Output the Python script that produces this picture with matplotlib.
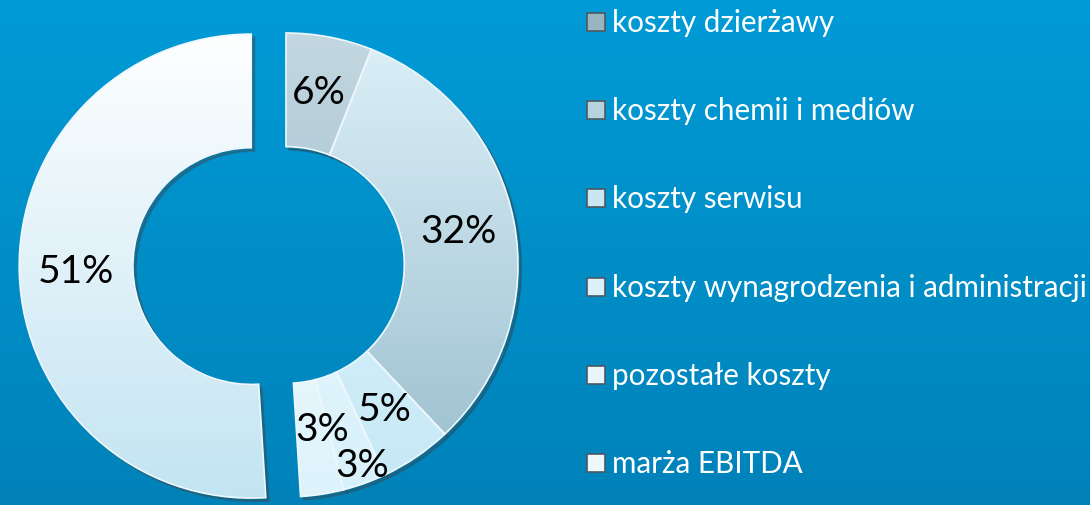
import numpy as np
import matplotlib
matplotlib.use("Agg")
import matplotlib.pyplot as plt
import matplotlib.patches as mpatches
from matplotlib.colors import to_rgba

# data
labels = ["koszty dzierżawy", "koszty chemii i mediów", "koszty serwisu",
          "koszty wynagrodzenia i administracji", "pozostałe koszty", "marża EBITDA"]
values = [6, 32, 5, 3, 3, 51]
explode = [0, 0, 0, 0, 0, 0.15]

# gradient colours per slice (top, bottom)
grad_top = ["#c3d8e1", "#ddf1f9", "#e8f8fd", "#f6fcff", "#ffffff", "#ffffff"]
grad_bot = ["#8fb1c0", "#98bccc", "#c4e8f5", "#d6f1fb", "#dcf3fb", "#c2e4f2"]
legend_col = ["#9bb5c0", "#b7d3de", "#c9e7f2", "#dcf1f9", "#e8f6fb", "#eef8fc"]

# manual nudges for the two crowded 3% labels
label_shift = {3: (-0.10, 0.0), 4: (0.21, -0.12)}

W, H = 1090, 505
R = 232.0                       # outer radius in px
cx, cy = 286.0, 505 - 265.0     # pie centre in px

fig = plt.figure(figsize=(W / 100, H / 100), dpi=100)
ax = fig.add_axes([0, 0, 1, 1])
xlim = (-cx / R, (W - cx) / R)
ylim = (-cy / R, (H - cy) / R)

# background
bg = np.linspace(0, 1, 256)[:, None, None]
c1, c2 = np.array(to_rgba("#009bd7")), np.array(to_rgba("#0082b9"))
ax.imshow(c1 * (1 - bg) + c2 * bg, extent=xlim + ylim, aspect="auto",
          zorder=0, interpolation="bicubic")

wedges, texts, autotexts = ax.pie(
    values, explode=explode, startangle=90, counterclock=False, radius=1,
    colors=legend_col, autopct="%.0f%%", pctdistance=0.755,
    wedgeprops=dict(width=0.49, edgecolor="#eef8fc", linewidth=1.2),
    textprops=dict(fontsize=28, color="black", family="Lato"))

for i, w in enumerate(wedges):
    sh = mpatches.Shadow(w, 0.01, -0.01)
    sh.set_facecolor("#2a4654")
    sh.set_alpha(0.4)
    sh.set_zorder(1)
    ax.add_patch(sh)
    t = np.linspace(0, 1, 256)[:, None, None]
    a, b = np.array(to_rgba(grad_top[i])), np.array(to_rgba(grad_bot[i]))
    im = ax.imshow(a * (1 - t) + b * t, extent=(-1.4, 1.2, -1.02, 1.02),
                   aspect="auto", zorder=2, interpolation="bicubic")
    im.set_clip_path(w)
    w.set_facecolor("none")
    w.set_zorder(3)

for i, t in enumerate(autotexts):
    t.set_zorder(4)
    if i in label_shift:
        x, y = t.get_position()
        dx, dy = label_shift[i]
        t.set_position((x + dx, y + dy))

ax.set_xlim(xlim)
ax.set_ylim(ylim)
ax.set_aspect("equal")
ax.axis("off")

# legend
rows_y = [22, 110, 198, 287, 375, 463]
for lab, col, yy in zip(labels, legend_col, rows_y):
    sq = mpatches.Rectangle((587 / W, 1 - (yy + 9) / H), 18 / W, 18 / H,
                            transform=fig.transFigure, facecolor=col,
                            edgecolor="#4a5a62", linewidth=1.2)
    fig.add_artist(sq)
    fig.text(612 / W, 1 - (yy + 1) / H, lab, color="white", fontsize=21.3,
             family="Lato", va="center", ha="left")

fig.savefig("out.png", dpi=100)
